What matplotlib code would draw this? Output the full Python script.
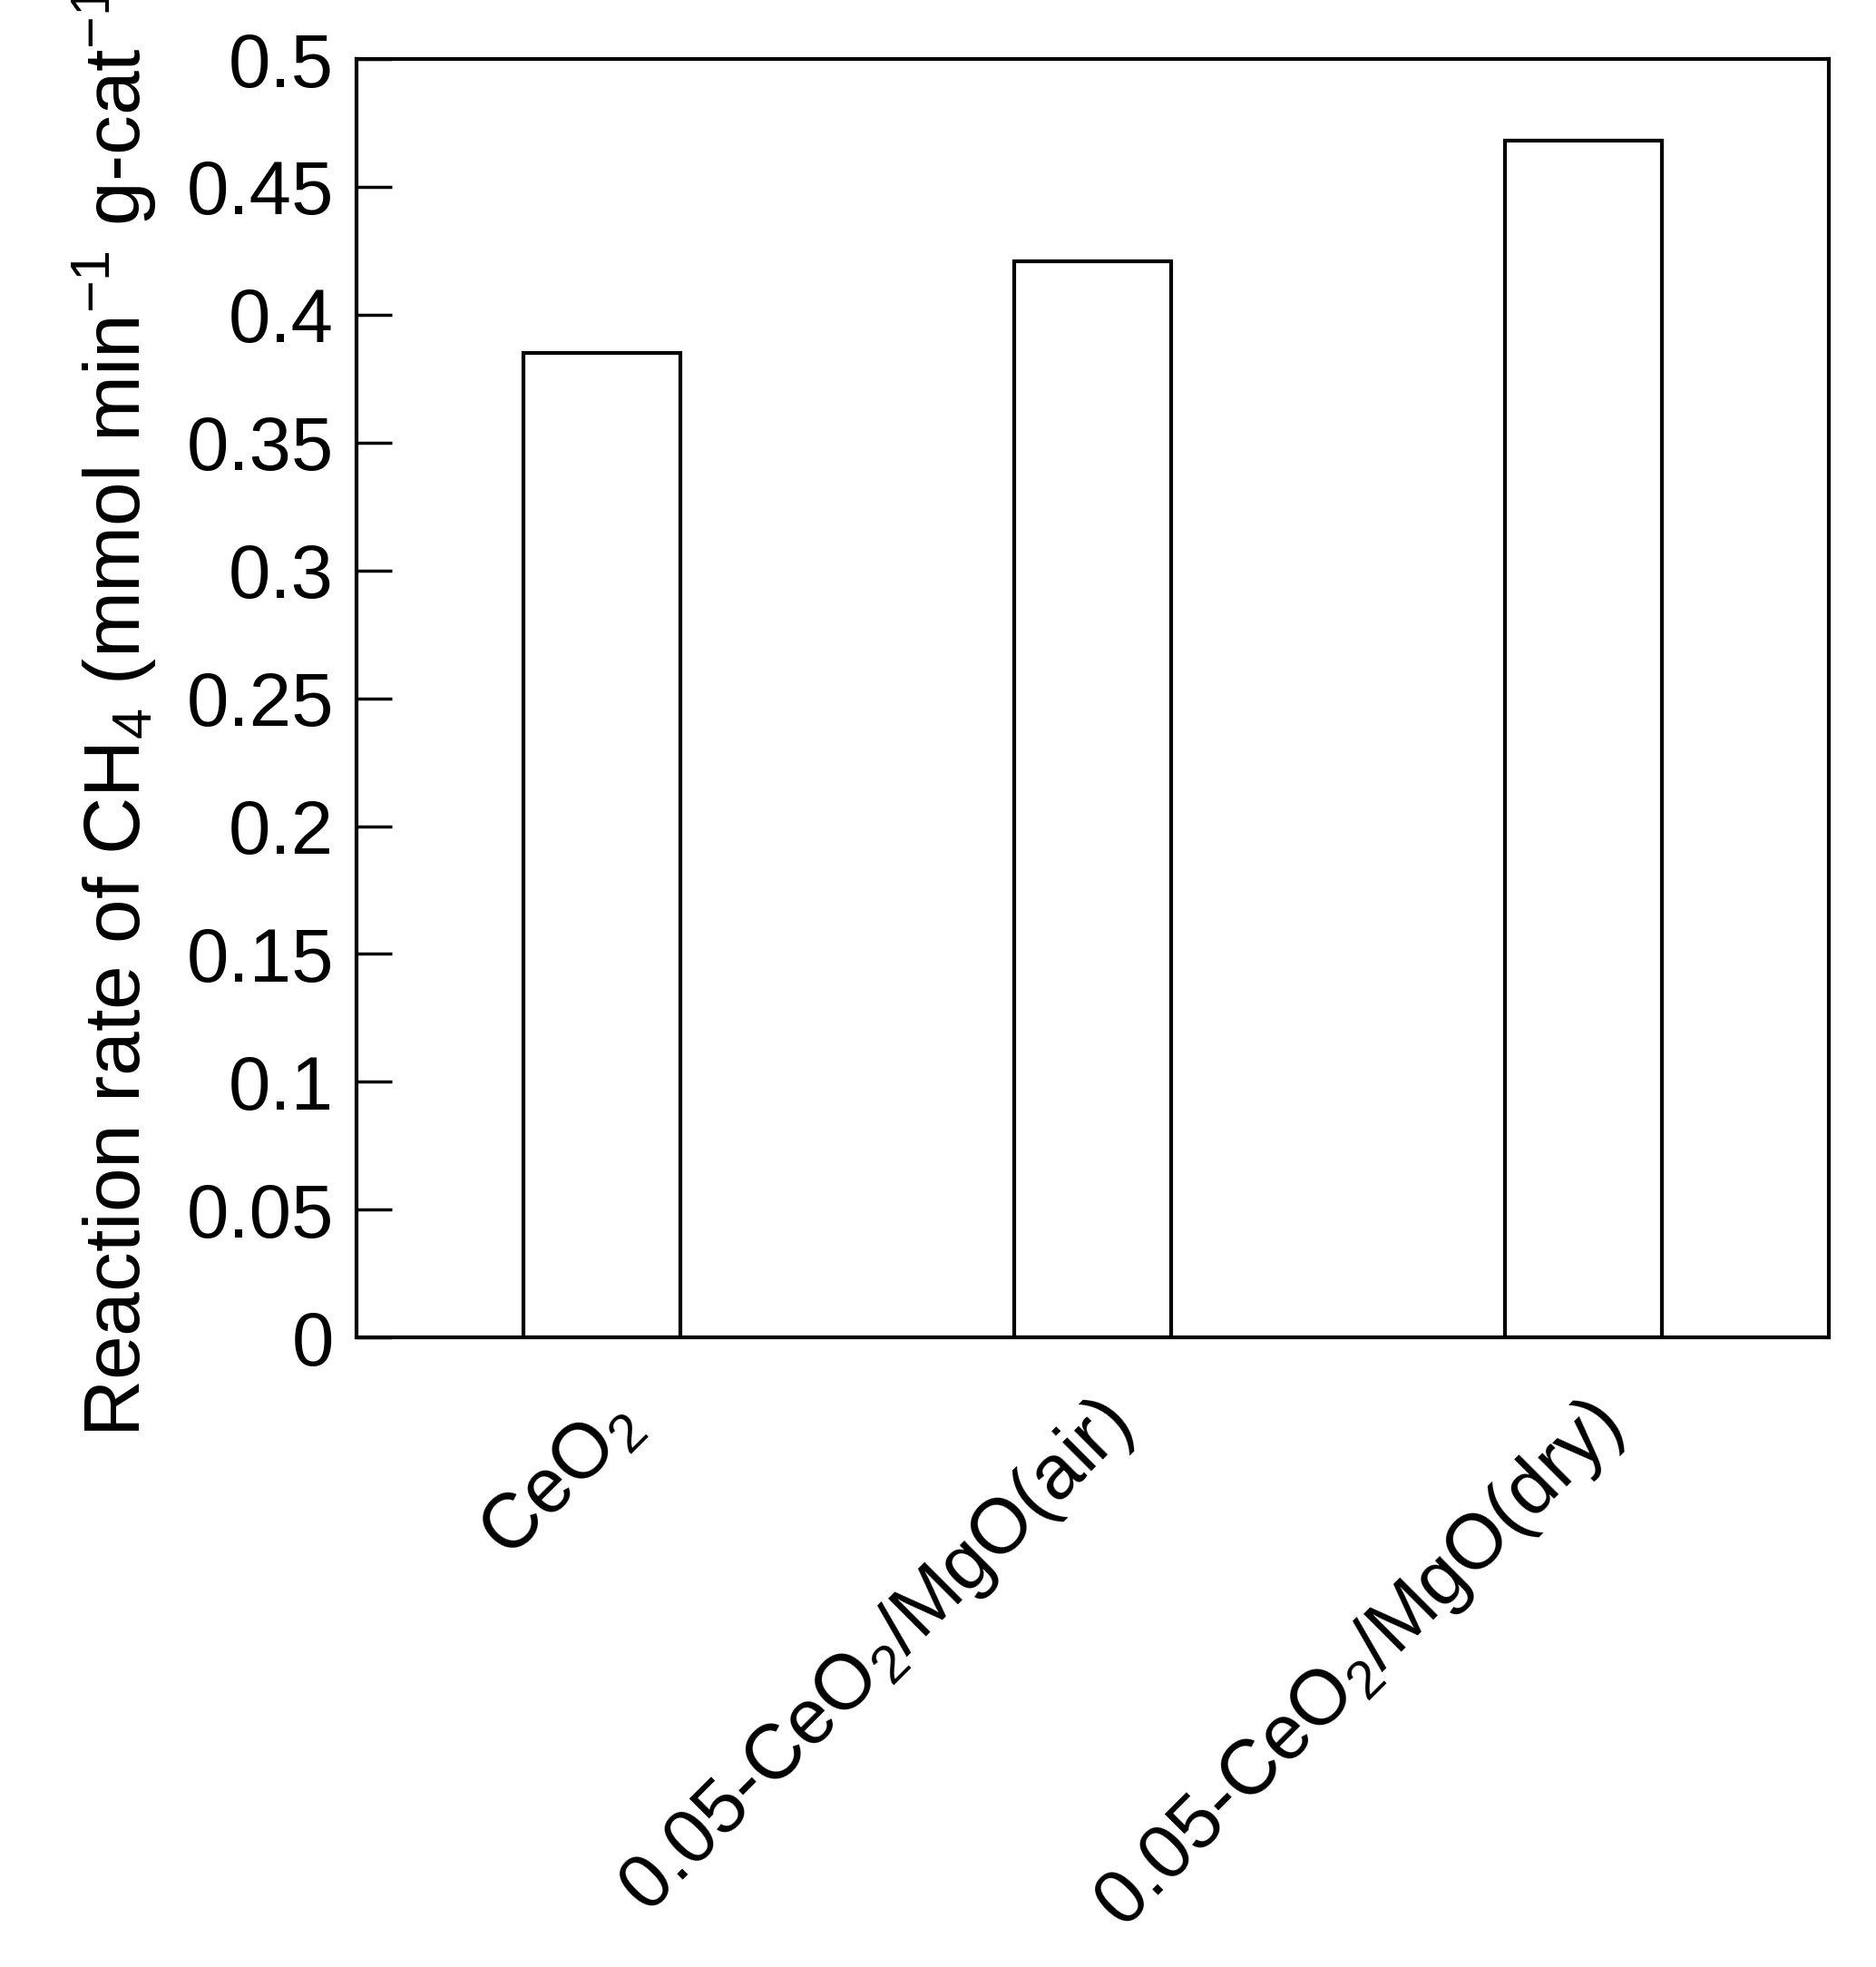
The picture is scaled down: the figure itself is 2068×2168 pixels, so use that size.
import matplotlib
matplotlib.use("Agg")
import matplotlib.pyplot as plt

plt.rcParams['font.family'] = ['Liberation Sans', 'DejaVu Sans']
plt.rcParams['mathtext.fontset'] = 'custom'
plt.rcParams['mathtext.rm'] = 'Liberation Sans'
plt.rcParams['mathtext.it'] = 'Liberation Sans'

categories = [r'CeO$\mathregular{_2}$',
              r'0.05-CeO$\mathregular{_2}$/MgO(air)',
              r'0.05-CeO$\mathregular{_2}$/MgO(dry)']
values = [0.385, 0.421, 0.468]
yticks = [0, 0.05, 0.1, 0.15, 0.2, 0.25, 0.3, 0.35, 0.4, 0.45, 0.5]
yticklabels = ['0', '0.05', '0.1', '0.15', '0.2', '0.25', '0.3', '0.35', '0.4', '0.45', '0.5']

fig = plt.figure(figsize=(20.68, 21.68), dpi=100)
ax = fig.add_axes([0.190, 0.320, 0.785, 0.650])
x = [0.5 + i for i in range(len(values))]
ax.bar(x, values, width=0.32, color='white', edgecolor='black', linewidth=3)
ax.set_xlim(0, 3)
ax.set_ylim(0, 0.5)
ax.set_yticks(yticks)
ax.set_yticklabels(yticklabels, fontsize=60)
ax.set_xticks(x)
ax.set_xticklabels(categories, fontsize=61, rotation=45, ha='right', rotation_mode='anchor')
ax.tick_params(axis='y', direction='in', length=28, width=2.5, pad=18)
ax.tick_params(axis='x', length=0, pad=40)
for s in ax.spines.values():
    s.set_linewidth(3)
ax.set_ylabel(r'Reaction rate of CH$\mathregular{_4}$ (mmol min$\mathregular{^{-1}}$ g-cat$\mathregular{^{-1}}$)',
              fontsize=63, labelpad=22)
fig.savefig('out.png', dpi=100)
